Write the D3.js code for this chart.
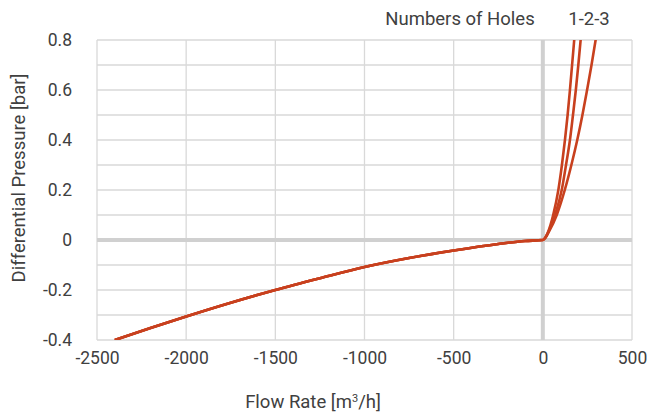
<!DOCTYPE html>
<html><head><meta charset="utf-8">
<script src="https://cdn.jsdelivr.net/npm/d3@7"></script>
<style>body{margin:0;background:#fff;} text{font-family:Roboto,"Noto Sans",sans-serif;}</style>
</head><body>
<svg id="c" width="649" height="414"></svg>
<script>
// Data (flow rate m3/h, differential pressure bar)
const negFlow = [-2400,-2200,-2000,-1750,-1500,-1250,-1000,-750,-500,-250,-100,0];
const negDp   = [-0.4,-0.352,-0.306,-0.251,-0.2,-0.153,-0.108,-0.072,-0.042,-0.016,-0.004,0];
const posDp   = [0.008,0.03,0.1,0.2,0.3,0.4,0.5,0.6,0.7,0.8,0.85];
const hole1Flow = [12,28,58,87,107,124,139,152,164,176,182];
const hole2Flow = [13,30,68,106,130,152,169,185,199,212,219];
const hole3Flow = [14,32,78,123,160,193,222,248,273,296,307];
const xTicks = [-2500,-2000,-1500,-1000,-500,0,500];
const yTicks = [-0.4,-0.2,0,0.2,0.4,0.6,0.8];
const yGrid = [-0.4,-0.3,-0.2,-0.1,0,0.1,0.2,0.3,0.4,0.5,0.6,0.7,0.8];

const svg = d3.select("#c");
const x = d3.scaleLinear().domain([-2500,500]).range([97,632]);
const y = d3.scaleLinear().domain([-0.4,0.8]).range([340,40]);
const grid = "#d9d9d9";
const txt = "#404040";

svg.append("defs").append("clipPath").attr("id","clip")
  .append("rect").attr("x",x(-2500)).attr("y",y(0.8)).attr("width",x(500)-x(-2500)).attr("height",y(-0.4)-y(0.8));

svg.append("g").selectAll("line").data(yGrid).join("line")
  .attr("x1",x(-2500)).attr("x2",x(500)).attr("y1",d=>y(d)).attr("y2",d=>y(d))
  .attr("stroke",grid).attr("stroke-width",1.3);
svg.append("g").selectAll("line").data(xTicks).join("line")
  .attr("y1",y(-0.4)).attr("y2",y(0.8)).attr("x1",d=>x(d)).attr("x2",d=>x(d))
  .attr("stroke",grid).attr("stroke-width",1.3);
svg.append("line").attr("x1",x(-2500)).attr("x2",x(500)).attr("y1",y(0)).attr("y2",y(0))
  .attr("stroke","#d0d0d0").attr("stroke-width",4);
svg.append("line").attr("y1",y(-0.4)).attr("y2",y(0.8)).attr("x1",x(0)).attr("x2",x(0))
  .attr("stroke","#d0d0d0").attr("stroke-width",4);

const fmtX = d => String(d);
const fmtY = d => d===0 ? "0" : d.toFixed(1);
const xAxis = svg.append("g").attr("transform",`translate(0,${y(-0.4)})`)
  .call(d3.axisBottom(x).tickValues(xTicks).tickSize(0).tickPadding(12).tickFormat(fmtX));
xAxis.select(".domain").remove();
xAxis.selectAll("text").attr("font-size",17.5).attr("fill",txt).style("font-family","Roboto");
const yAxis = svg.append("g").attr("transform",`translate(${x(-2500)},0)`)
  .call(d3.axisLeft(y).tickValues(yTicks).tickSize(0).tickPadding(25).tickFormat(fmtY));
yAxis.select(".domain").remove();
yAxis.selectAll("text").attr("font-size",17.5).attr("fill",txt).style("font-family","Roboto");

const line = d3.line().x(d=>x(d[0])).y(d=>y(d[1])).curve(d3.curveMonotoneX);
const neg = negFlow.map((f,i)=>[f,negDp[i]]);
[hole1Flow,hole2Flow,hole3Flow].forEach(fl=>{
  const pts = neg.concat(fl.map((f,i)=>[f,posDp[i]]));
  svg.append("path").datum(pts).attr("d",line).attr("fill","none")
    .attr("stroke","#c8401e").attr("stroke-width",2.6).attr("clip-path","url(#clip)");
});

svg.append("text").attr("x",313).attr("y",408).attr("text-anchor","middle").attr("font-size",18.5).attr("fill",txt)
  .html('Flow Rate [m<tspan baseline-shift="super" font-size="11">3</tspan>/h]');
svg.append("text").attr("transform","translate(25,178) rotate(-90)").attr("text-anchor","middle")
  .attr("font-size",18.5).attr("fill",txt).text("Differential Pressure [bar]");
svg.append("text").attr("x",460).attr("y",25).attr("text-anchor","middle").attr("font-size",18.5).attr("fill",txt).text("Numbers of Holes");
svg.append("text").attr("x",589).attr("y",25).attr("text-anchor","middle").attr("font-size",18.5).attr("fill",txt).text("1-2-3");
</script>
</body></html>
